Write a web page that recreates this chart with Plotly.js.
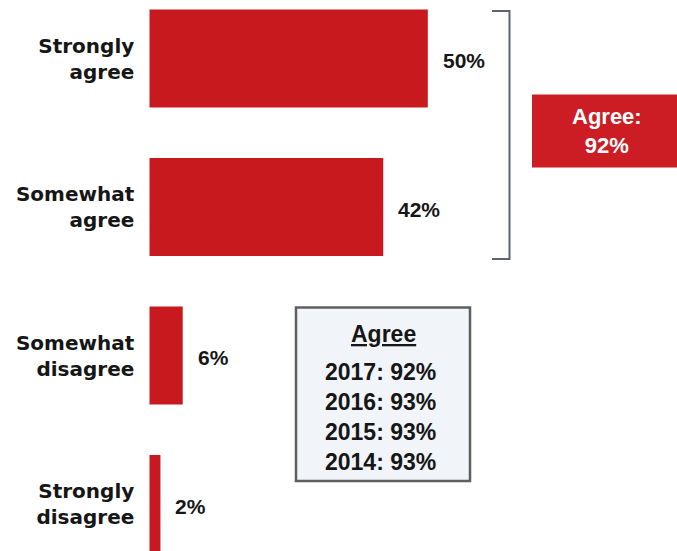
<!DOCTYPE html>
<html>
<head>
<meta charset="utf-8">
<script src="https://cdn.plot.ly/plotly-3.0.1.min.js"></script>
<style>html,body{margin:0;padding:0;background:#fff;}#chart{width:677px;height:551px;}</style>
</head>
<body>
<div id="chart"></div>
<script>
// ---- data ----
const categories = ['Strongly<br>agree', 'Somewhat<br>agree', 'Somewhat<br>disagree', 'Strongly<br>disagree'];
const values = [50, 42, 6, 2];
const valueLabels = ['50%', '42%', '6%', '2%'];
const summaryText = 'Agree:<br>92%';
const trendTitle = 'Agree';
const trendYears = ['2017', '2016', '2015', '2014'];
const trendValues = ['92%', '93%', '93%', '93%'];

// ---- layout helpers (paper coordinates from pixel positions) ----
const W = 677, H = 551;
const px = x => x / W;
const py = y => 1 - y / H;

const BAR = '#c8191f';
const TXT = '#161616';

const trace = {
  type: 'bar',
  orientation: 'h',
  x: values,
  y: categories,
  marker: {color: BAR, line: {width: 0}},
  hoverinfo: 'skip'
};

const annotations = [];
values.forEach((v, i) => {
  annotations.push({
    x: v, y: categories[i], xref: 'x', yref: 'y',
    text: valueLabels[i], showarrow: false,
    xanchor: 'left', yanchor: 'middle', xshift: 13, yshift: -2,
    font: {family: 'Liberation Sans, Arial, sans-serif', size: 21, weight: 'bold', color: TXT}
  });
});
annotations.push({
  x: px(607), y: py(131), xref: 'paper', yref: 'paper',
  text: summaryText, showarrow: false, xanchor: 'center', yanchor: 'middle',
  font: {family: 'Liberation Sans, Arial, sans-serif', size: 22, weight: 'bold', color: '#ffffff'}
});
annotations.push({
  x: px(383), y: py(334), xref: 'paper', yref: 'paper',
  text: '<u>' + trendTitle + '</u>', showarrow: false, xanchor: 'center', yanchor: 'middle',
  font: {family: 'Liberation Sans, Arial, sans-serif', size: 23, weight: 'bold', color: TXT}
});
annotations.push({
  x: px(381), y: py(417), xref: 'paper', yref: 'paper',
  text: trendYears.map((y, i) => y + ': ' + trendValues[i]).join('<br>'),
  showarrow: false, xanchor: 'center', yanchor: 'middle',
  font: {family: 'Liberation Sans, Arial, sans-serif', size: 23, weight: 'bold', color: TXT}
});

const shapes = [
  // bracket
  {type: 'path', xref: 'paper', yref: 'paper',
   path: `M ${px(492)} ${py(11)} L ${px(509.5)} ${py(11)} L ${px(509.5)} ${py(259)} L ${px(492)} ${py(259)}`,
   line: {color: '#5b6370', width: 2}},
  // summary red box
  {type: 'rect', xref: 'paper', yref: 'paper',
   x0: px(532), x1: px(680), y0: py(94.5), y1: py(167.5),
   fillcolor: '#cc1c24', line: {width: 0}},
  // trend box
  {type: 'rect', xref: 'paper', yref: 'paper',
   x0: px(296), x1: px(470), y0: py(307.5), y1: py(481),
   fillcolor: '#f1f4f8', line: {color: '#5f5f5f', width: 2.5}}
];

const layout = {
  width: W, height: H,
  margin: {l: 0, r: 0, t: 0, b: 0},
  paper_bgcolor: '#ffffff', plot_bgcolor: 'rgba(0,0,0,0)',
  showlegend: false,
  bargap: 0.34,
  xaxis: {domain: [149.3 / W, 1], range: [0, (W - 149.3) / 5.57],
          showgrid: false, zeroline: false, showline: false, showticklabels: false, ticks: ''},
  yaxis: {domain: [0, 1], range: [3.316, -0.394], type: 'category',
          showgrid: false, zeroline: false, showline: false, ticks: '',
          ticklabelstandoff: 14,
          tickfont: {family: 'DejaVu Sans, sans-serif', size: 20, weight: 'bold', color: TXT}},
  shapes: shapes,
  annotations: annotations
};

Plotly.newPlot('chart', [trace], layout, {displayModeBar: false, staticPlot: true});
</script>
</body>
</html>
